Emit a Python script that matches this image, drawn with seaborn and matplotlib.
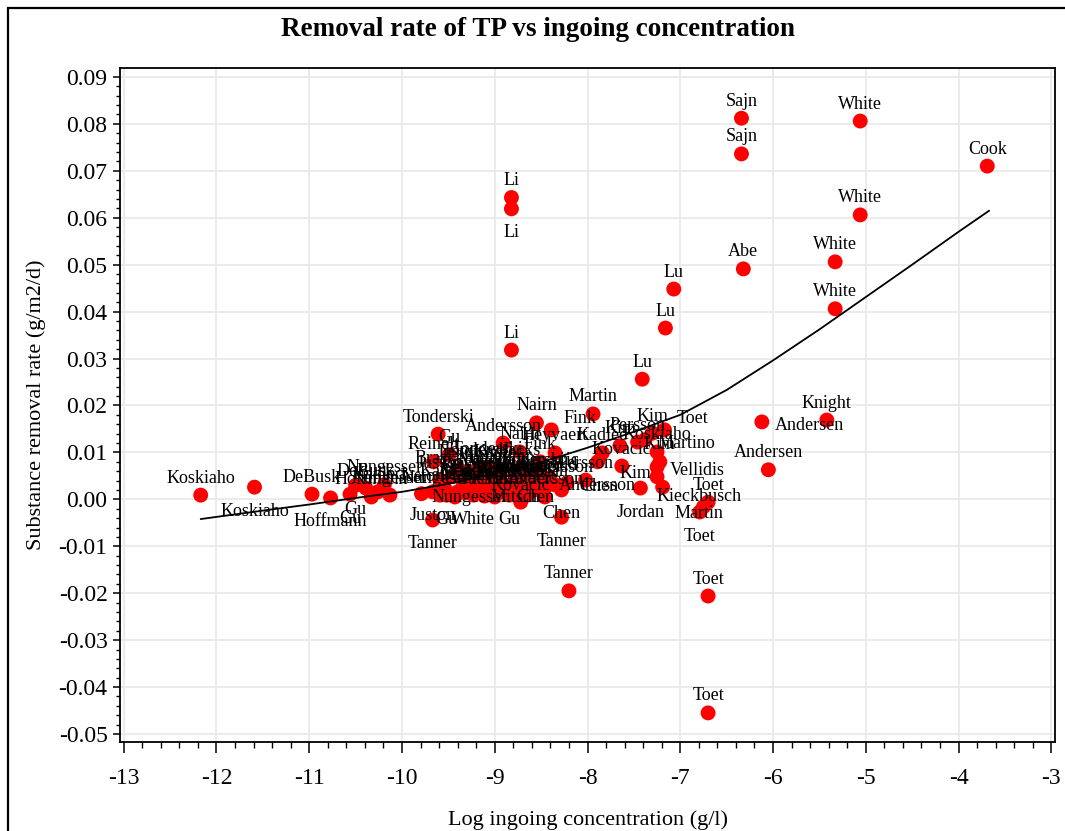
import matplotlib
matplotlib.use("Agg")
import matplotlib.pyplot as plt
from matplotlib.ticker import AutoMinorLocator, FuncFormatter, MultipleLocator
from matplotlib.patches import Rectangle
import seaborn as sns
import pandas as pd

# ---------------- data ----------------
names = [
    "Koskiaho", "Koskiaho", "DeBusk", "Hoffmann", "Gu", "Gu", "DeBusk", "Nungesser",
    "Hoffmann", "Kadlec", "Nungesser", "Juston", "Tonderski", "Gu", "Reinelt",
    "Andersson", "Nairn", "Fink", "Heyvaert", "Nairn", "Tonderski", "Fink",
    "Juston", "Tanner", "Gu", "White", "Gu", "Nungesser", "Mitsch", "Chen",
    "Chen", "Tanner", "Tanner", "Kovacic",
    # dense cluster
    "Juston", "Kadlec", "Braskerud", "Jacks", "Raisin", "Mander", "Coveney",
    "Carleton", "Fisher", "Maehlum", "Kovacic", "Vymazal", "Persson", "Andersson",
    "Mitsch", "Reinelt", "Nungesser", "Tonderski", "Kadlec", "Braskerud", "Jordan",
    "Kovacic", "Andersson", "Nungesser", "Gu", "Mitsch", "Juston", "Chen",
    "Kovacic", "Andersson", "Juston", "Tonderski", "Kadlec", "Jacks",
    # middle right
    "Martin", "Kim", "Toet", "Koskiaho", "Martino", "Kim", "Kadlec", "Andersson",
    "Kovacic", "Vellidis", "Kim", "Kim", "Chen", "Persson", "Persson",
    "Kieckbusch", "Jordan", "Toet", "Martin", "Toet",
    # upper / outlying
    "Li", "Li", "Li", "Lu", "Lu", "Lu", "Sajn", "Sajn", "Abe", "White", "White",
    "White", "White", "Cook", "Knight", "Andersen", "Andersen", "Toet", "Toet",
]

log_conc = [
    -12.17, -11.59, -10.97, -10.77, -10.56, -10.50, -10.39, -10.19,
    -10.33, -10.26, -10.13, -9.79, -9.61, -9.49, -9.66,
    -8.91, -8.55, -8.39, -8.35, -8.73, -9.08, -8.51,
    -9.67, -9.67, -9.52, -9.23, -8.84, -9.27, -8.78, -8.56,
    -8.28, -8.28, -8.20, -8.72,
    -9.59, -9.54, -9.46, -9.40, -9.34, -9.29, -9.22,
    -9.16, -9.10, -9.03, -8.99, -8.95, -8.89, -8.84,
    -8.78, -8.73, -8.68, -8.62, -8.57, -8.51, -8.46,
    -8.41, -8.35, -9.59, -9.43, -9.32, -9.11, -9.00,
    -8.65, -8.46, -9.38, -9.18, -8.95, -8.71,
    -7.94, -7.30, -7.17, -7.25, -7.38, -7.65, -7.84, -7.89,
    -7.63, -7.25, -7.22, -7.25, -8.22, -8.02, -7.46,
    -7.19, -7.43, -6.70, -6.75, -6.79,
    -8.82, -8.82, -8.82, -7.07, -7.16, -7.41, -6.34, -6.34, -6.32, -5.06, -5.06,
    -5.33, -5.33, -3.69, -5.42, -6.12, -6.05, -6.70, -6.70,
]

removal_rate = [
    0.0009, 0.0026, 0.0011, 0.0003, 0.0011, 0.0030, 0.0024, 0.0031,
    0.0005, 0.0016, 0.0009, 0.0012, 0.0139, 0.0095, 0.0080,
    0.0120, 0.0163, 0.0148, 0.0099, 0.0101, 0.0069, 0.0080,
    0.0016, -0.0044, 0.0009, 0.0009, 0.0009, 0.0054, 0.0054, 0.0054,
    0.0020, -0.0038, -0.0195, -0.0006,
    0.0041, 0.0024, 0.0050, 0.0016, 0.0037, 0.0024, 0.0043,
    0.0020, 0.0033, 0.0050, 0.0022, 0.0039, 0.0016, 0.0031,
    0.0041, 0.0020, 0.0033, 0.0046, 0.0020, 0.0035, 0.0024,
    0.0046, 0.0031, 0.0009, 0.0005, 0.0014, 0.0007, 0.0005,
    0.0009, 0.0005, 0.0063, 0.0067, 0.0063, 0.0067,
    0.0182, 0.0141, 0.0148, 0.0101, 0.0127, 0.0114, 0.0099, 0.0080,
    0.0071, 0.0069, 0.0080, 0.0048, 0.0035, 0.0041, 0.0122,
    0.0026, 0.0024, -0.0006, -0.0016, -0.0027,
    0.0643, 0.0619, 0.0318, 0.0448, 0.0365, 0.0256, 0.0812, 0.0736, 0.0491, 0.0806, 0.0606,
    0.0506, 0.0406, 0.0710, 0.0169, 0.0165, 0.0063, -0.0455, -0.0206,
]

# where each point's label sits relative to its marker
label_side = [
    "a", "b", "a", "b", "b", "b", "a", "a",
    "a", "a", "a", "a", "a", "a", "a",
    "a", "a", "ar", "a", "a", "a", "a",
    "b", "b", "b", "b", "b", "b", "b", "b",
    "b", "b", "a", "a",
    "a", "a", "a", "a", "a", "a", "a",
    "a", "a", "a", "a", "a", "a", "a",
    "a", "a", "a", "a", "a", "a", "a",
    "a", "a", "a", "a", "a", "a", "a",
    "a", "a", "a", "a", "a", "a",
    "a", "a", "ar", "a", "r", "a", "a", "b",
    "a", "r", "a", "al", "r", "a", "a",
    "bR", "b", "a", "c", "b",
    "a", "b", "a", "a", "a", "a", "a", "a", "a", "a", "a",
    "a", "a", "a", "a", "r", "a", "a", "a",
]

# fitted trend curve
curve_x = [-12.17, -11.5, -11.0, -10.5, -10.0, -9.5, -9.0, -8.5, -8.0,
           -7.5, -7.0, -6.5, -6.0, -5.5, -5.0, -4.5, -4.0, -3.67]
curve_y = [-0.0042, -0.0024, -0.0011, 0.0003, 0.0016, 0.0033, 0.0055, 0.0079, 0.0110,
           0.0144, 0.0180, 0.0233, 0.0296, 0.0362, 0.0431, 0.0500, 0.0570, 0.0615]

title = "Removal rate of TP vs ingoing concentration"
x_label = "Log ingoing concentration (g/l)"
y_label = "Substance removal rate (g/m2/d)"

# ---------------- styling ----------------
sns.set_theme(style="white")
plt.rcParams["font.family"] = ["Liberation Serif", "DejaVu Serif"]
plt.rcParams["axes.unicode_minus"] = False
plt.rcParams["text.color"] = "black"
plt.rcParams["axes.labelcolor"] = "black"

W, H = 1065, 831
fig = plt.figure(figsize=(W / 100, H / 100), dpi=100)
ax = fig.add_axes([120 / W, 1 - 742 / H, 935 / W, 674 / H])

df = pd.DataFrame({"x": log_conc, "y": removal_rate, "name": names, "side": label_side})

ax.grid(True, which="major", color="#e8e8e8", linewidth=1.2, zorder=0)
ax.set_axisbelow(True)

sns.scatterplot(data=df, x="x", y="y", color="#ff0000", s=115, edgecolor="none",
                linewidth=0, ax=ax, zorder=3, legend=False)
sns.lineplot(x=curve_x, y=curve_y, color="black", linewidth=1.3, ax=ax, zorder=4,
             estimator=None, sort=False)

offsets = {
    "a": (0, 17, "center"),
    "b": (0, -24, "center"),
    "r": (13, -4, "left"),
    "ar": (12, 11, "left"),
    "al": (-6, 3, "right"),
    "bR": (-6, -9, "left"),
    "c": (-4, -7, "center"),
}
for _, row in df.iterrows():
    dx, dy, ha = offsets[row["side"]]
    ax.annotate(row["name"], (row["x"], row["y"]), xytext=(dx, dy),
                textcoords="offset pixels", ha=ha, va="center",
                fontsize=13, color="black", zorder=5)


def yfmt(v, _pos):
    s = f"{v:.2f}"
    return "0.00" if s in ("-0.00", "0.00") else s


ax.set_xlim(-13.04, -2.96)
ax.set_ylim(-0.0517, 0.0919)
ax.xaxis.set_major_locator(MultipleLocator(1))
ax.yaxis.set_major_locator(MultipleLocator(0.01))
ax.yaxis.set_major_formatter(FuncFormatter(yfmt))
ax.xaxis.set_major_formatter(FuncFormatter(lambda v, p: f"{int(round(v))}"))
ax.xaxis.set_minor_locator(AutoMinorLocator(5))
ax.yaxis.set_minor_locator(AutoMinorLocator(5))
ax.tick_params(which="major", direction="out", width=1.1, colors="black",
               labelsize=17, bottom=True, left=True)
ax.tick_params(which="minor", direction="out", width=1.0, colors="black",
               bottom=True, left=True)
ax.tick_params(axis="x", which="major", length=8, pad=11)
ax.tick_params(axis="x", which="minor", length=4)
ax.tick_params(axis="y", which="major", length=5, pad=4)
ax.tick_params(axis="y", which="minor", length=3)
for sp in ax.spines.values():
    sp.set_color("black")
    sp.set_linewidth(1.3)

ax.set_xlabel(x_label, fontsize=16, labelpad=15, color="black")
ax.set_ylabel(y_label, fontsize=16, labelpad=9, color="black")

fig.text(538 / W, 1 - 29 / H, title, ha="center", va="center",
         fontsize=19.5, fontweight="bold", color="black")

# outer frame (cropped on the right and bottom)
fig.patches.append(Rectangle((8 / W, -0.2), 1.5, 1.2 - 8 / H, fill=False,
                             edgecolor="black", linewidth=1.6,
                             transform=fig.transFigure, figure=fig))

fig.savefig("out.png", dpi=100)
